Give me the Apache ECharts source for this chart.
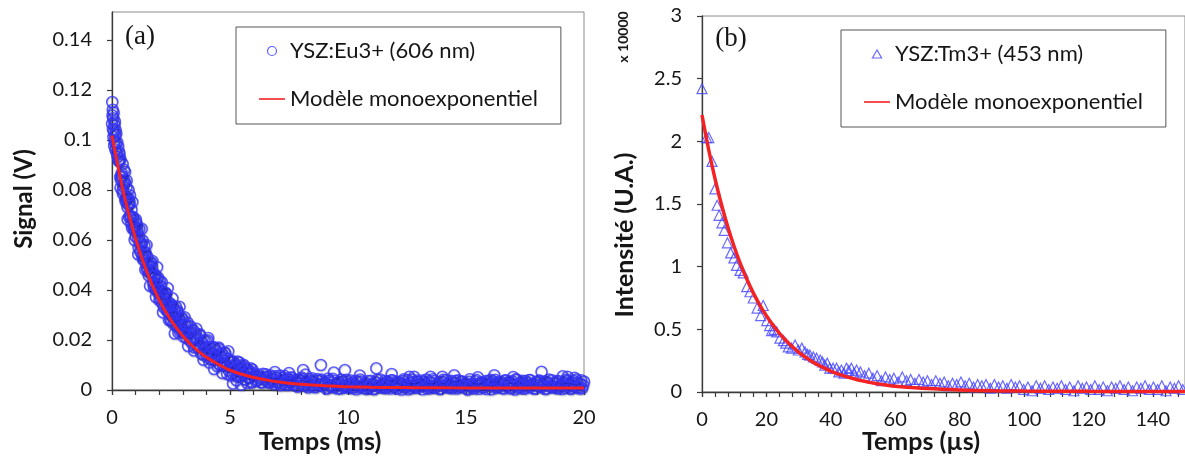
<!DOCTYPE html>
<html><head><meta charset="utf-8">
<script src="https://cdn.jsdelivr.net/npm/echarts@6/dist/echarts.min.js"></script>
<style>html,body{margin:0;padding:0;background:#fff}#c{width:1185px;height:459px}</style>
</head><body><div id="c"></div><script>
// ---------- Panel (a) : YSZ:Eu3+ ----------
const xTicksA = [0, 5, 10, 15, 20];
const xMinorA = [0,1,2,3,4,5,6,7,8,9,10,11,12,13,14,15,16,17,18,19,20];
const yTicksA = [0, 0.02, 0.04, 0.06, 0.08, 0.1, 0.12, 0.14];
const euSpike = [[0,.1065],[0.01,.1152],[0.02,.1098],[0.03,.1121],[0.04,.1043],[0.05,.1087],[0.06,.1012],[0.07,.1109],[0.08,.1035],[0.09,.0978],[0.1,.1062],[0.11,.0995],[0.12,.1074],[0.13,.1018],[0.14,.0962],[0.15,.1041],[0.16,.0987],[0.18,.1026],[0.2,.0948],[0.22,.0991],[0.24,.0932],[0.26,.0975],[0.28,.0918],[0.3,.0953],[0.35,.0925],[0.45,.0905],[0.55,.0872],[0.62,.0838],[0.7,.0801]];
const euSteep1 = [[0.3,.0916],[0.35,.0852],[0.4,.0856],[0.45,.0798],[0.5,.0825],[0.55,.083],[0.6,.0765],[0.65,.0732],[0.7,.0741],[0.75,.075],[0.8,.0689],[0.85,.0648],[0.9,.0692],[0.95,.0657],[1,.0614],[1.05,.066],[1.1,.0605],[1.15,.0613],[1.2,.0553],[1.25,.0581],[1.3,.0598],[1.35,.0522],[1.4,.0539],[1.45,.0507],[1.5,.0533],[1.55,.0459],[1.6,.05],[1.65,.0469],[1.7,.0492],[1.75,.0431],[1.8,.0445],[1.85,.0402],[1.9,.0442],[1.95,.045],[2,.039],[2.05,.0366],[2.1,.0395],[2.15,.0376],[2.2,.0331],[2.25,.0375],[2.3,.0384],[2.35,.0332],[2.4,.031],[2.45,.0334],[2.5,.0343],[2.55,.0294],[2.6,.0265],[2.65,.032],[2.7,.0293],[2.75,.0254],[2.8,.0309],[2.85,.0263],[2.9,.0279],[2.95,.0238]];
const euSteep2 = [[0.325,.0918],[0.375,.084],[0.425,.0855],[0.475,.0814],[0.525,.0834],[0.575,.0754],[0.625,.0769],[0.675,.0771],[0.725,.0692],[0.775,.0697],[0.825,.0722],[0.875,.0689],[0.925,.0642],[0.975,.0641],[1.025,.067],[1.075,.0637],[1.125,.057],[1.175,.0592],[1.225,.059],[1.275,.0538],[1.325,.0539],[1.375,.0577],[1.425,.0547],[1.475,.0485],[1.525,.0506],[1.575,.047],[1.625,.0509],[1.675,.0464],[1.725,.0473],[1.775,.0409],[1.825,.0462],[1.875,.0413],[1.925,.0423],[1.975,.0385],[2.025,.0438],[2.075,.0398],[2.125,.0348],[2.175,.0386],[2.225,.0355],[2.275,.0387],[2.325,.0317],[2.375,.0337],[2.425,.0349],[2.475,.0281],[2.525,.0299],[2.575,.0336],[2.625,.0303],[2.675,.0269],[2.725,.0277],[2.775,.0318],[2.825,.0287],[2.875,.0235],[2.925,.0267],[2.975,.0237]];
const euSteep3 = [[0.31,.0943],[0.36,.0809],[0.41,.0868],[0.46,.0786],[0.51,.0881],[0.56,.0765],[0.61,.0809],[0.66,.0683],[0.71,.0747],[0.76,.0779],[0.81,.0666],[0.86,.0752],[0.91,.0657],[0.96,.06],[1.01,.0682],[1.06,.0649],[1.11,.0543],[1.16,.0644],[1.21,.0575],[1.26,.0645],[1.31,.0523],[1.36,.0555],[1.41,.0482],[1.46,.058],[1.51,.0485],[1.56,.0499],[1.61,.0417],[1.66,.051],[1.71,.0516],[1.76,.0421],[1.81,.0457],[1.86,.0372],[1.91,.0492],[1.96,.0399],[2.01,.0359],[2.06,.0417],[2.11,.0431],[2.16,.0311],[2.21,.0371],[2.26,.039],[2.31,.0324],[2.36,.0408],[2.41,.028],[2.46,.034],[2.51,.028],[2.56,.0367],[2.61,.0298],[2.66,.0226],[2.71,.0333],[2.76,.0304],[2.81,.023],[2.86,.0333],[2.91,.0247],[2.96,.0289]];
const euMid1 = [[3,.0282],[3.05,.0234],[3.1,.0258],[3.15,.021],[3.2,.027],[3.25,.0229],[3.3,.0199],[3.35,.0241],[3.4,.0201],[3.45,.0239],[3.5,.017],[3.55,.0207],[3.6,.0213],[3.65,.0171],[3.7,.022],[3.75,.0174],[3.8,.019],[3.85,.0142],[3.9,.0197],[3.95,.0172],[4,.0141],[4.05,.0199],[4.1,.0142],[4.15,.0168],[4.2,.0121],[4.25,.0148],[4.3,.0172],[4.35,.0122],[4.4,.0158],[4.45,.0124],[4.5,.0166],[4.55,.0102],[4.6,.0134],[4.65,.0147],[4.7,.0099],[4.75,.0116],[4.8,.0147],[4.85,.0097],[4.9,.0125],[4.95,.0078],[5,.0115],[5.05,.0091],[5.1,.0066],[5.15,.0114],[5.2,.0069],[5.25,.01],[5.3,.0054],[5.35,.0086],[5.4,.011],[5.45,.0055],[5.5,.0087],[5.55,.006],[5.6,.0095],[5.65,.0042],[5.7,.0071],[5.75,.0084],[5.8,.0048],[5.85,.0072],[5.9,.0032],[5.95,.0082],[6,.0055]];
const euMid2 = [[3.025,.0214],[3.075,.0291],[3.125,.0225],[3.175,.0259],[3.225,.0176],[3.275,.0236],[3.325,.0255],[3.375,.0189],[3.425,.0212],[3.475,.0158],[3.525,.0228],[3.575,.0245],[3.625,.017],[3.675,.0177],[3.725,.0223],[3.775,.0147],[3.825,.0192],[3.875,.0121],[3.925,.0175],[3.975,.0197],[4.025,.0132],[4.075,.0208],[4.125,.011],[4.175,.0149],[4.225,.0171],[4.275,.0125],[4.325,.0084],[4.375,.0168],[4.425,.014],[4.475,.0095],[4.525,.017],[4.575,.0102],[4.625,.0137],[4.675,.0068],[4.725,.0139],[4.775,.015],[4.825,.01],[4.875,.0065],[4.925,.0155],[4.975,.0115],[5.025,.0058],[5.075,.0115],[5.125,.0026],[5.175,.0101],[5.225,.0082],[5.275,.0039],[5.325,.0114],[5.375,.0057],[5.425,.0098],[5.475,.0021],[5.525,.0074],[5.575,.0101],[5.625,.0043],[5.675,.0087],[5.725,.0028],[5.775,.0071],[5.825,.0052],[5.875,.0087],[5.925,.003],[5.975,.007]];
const euTail1 = [[6.08,.0061],[6.16,.004],[6.24,.005],[6.32,.0031],[6.4,.0065],[6.48,.0041],[6.56,.0051],[6.64,.0031],[6.72,.0058],[6.8,.0042],[6.88,.0023],[6.96,.0048],[7.04,.0032],[7.12,.0058],[7.2,.0027],[7.28,.004],[7.36,.0021],[7.44,.0047],[7.52,.0032],[7.6,.0051],[7.68,.0023],[7.76,.0038],[7.84,.0015],[7.92,.004],[8,.0027],[8.08,.0044],[8.16,.0018],[8.24,.003],[8.32,.001],[8.4,.0035],[8.48,.0047],[8.56,.0019],[8.64,.0013],[8.72,.0037],[8.8,.0024],[8.88,.0042],[8.96,.002],[9.04,.0029],[9.12,.0009],[9.2,.0038],[9.28,.0015],[9.36,.0045],[9.44,.0011],[9.52,.0023],[9.6,.0031],[9.68,.0006],[9.76,.0034],[9.84,.0018],[9.92,.0041],[10,.0011],[10.08,.0024],[10.16,.0007],[10.24,.0028],[10.32,.0037],[10.4,.0015],[10.48,.001],[10.56,.0034],[10.64,.0019],[10.72,.0025],[10.8,.0004],[10.88,.0009],[10.96,.0037],[11.04,.0022],[11.12,.0004],[11.2,.003],[11.28,.0015],[11.36,.0042],[11.44,.0011],[11.52,.0025],[11.6,.0007],[11.68,.0034],[11.76,.0019],[11.84,.0039],[11.92,.0012],[12,.0027],[12.08,.0005],[12.16,.0031],[12.24,.0018],[12.32,.0036],[12.4,.001],[12.48,.0023],[12.56,.0003],[12.64,.0029],[12.72,.0041],[12.8,.0014],[12.88,.0008],[12.96,.0032],[13.04,.002],[13.12,.0038],[13.2,.0016],[13.28,.0026],[13.36,.0006],[13.44,.0035],[13.52,.0013],[13.6,.0043],[13.68,.0009],[13.76,.0021],[13.84,.003],[13.92,.0005],[14,.0033],[14.08,.0017],[14.16,.004],[14.24,.0011],[14.32,.0024],[14.4,.0007],[14.48,.0028],[14.56,.0037],[14.64,.0015],[14.72,.001],[14.8,.0034],[14.88,.0019],[14.96,.0025],[15.04,.0004],[15.12,.0033],[15.2,.0013],[15.28,.0024],[15.36,.0006],[15.44,.004],[15.52,.0017],[15.6,.0028],[15.68,.0031],[15.76,.0012],[15.84,.0036],[15.92,.0021],[16,.0027],[16.08,.0003],[16.16,.0035],[16.24,.0041],[16.32,.0011],[16.4,.0024],[16.48,.0032],[16.56,.0008],[16.64,.0038],[16.72,.0016],[16.8,.003],[16.88,.0006],[16.96,.0035],[17.04,.0019],[17.12,.0043],[17.2,.0009],[17.28,.0026],[17.36,.003],[17.44,.0005],[17.52,.0036],[17.6,.0014],[17.68,.004],[17.76,.0022],[17.84,.0024],[17.92,.0007],[18,.0031],[18.08,.0037],[18.16,.0012],[18.24,.0019],[18.32,.0034],[18.4,.0006],[18.48,.0027],[18.56,.0015],[18.64,.0039],[18.72,.0013],[18.8,.0029],[18.88,.0006],[18.96,.0035],[19.04,.0017],[19.12,.0028],[19.2,.0009],[19.28,.0037],[19.36,.0022],[19.44,.0004],[19.52,.003],[19.6,.0015],[19.68,.0042],[19.76,.0011],[19.84,.0025],[19.92,.0007],[20,.0034]];
const euTail2 = [[6.12,.0037],[6.2,.0062],[6.28,.0049],[6.36,.003],[6.44,.0053],[6.52,.0063],[6.6,.0037],[6.68,.0029],[6.76,.0051],[6.84,.0038],[6.92,.0056],[7,.0029],[7.08,.0043],[7.16,.0019],[7.24,.0048],[7.32,.0056],[7.4,.0031],[7.48,.002],[7.56,.004],[7.64,.0048],[7.72,.0022],[7.8,.0032],[7.88,.0014],[7.96,.0041],[8.04,.005],[8.12,.0022],[8.2,.0032],[8.28,.0016],[8.36,.0044],[8.44,.0022],[8.52,.0036],[8.6,.0011],[8.68,.0044],[8.76,.0024],[8.84,.0038],[8.92,.0017],[9,.003],[9.08,.0005],[9.16,.0046],[9.24,.002],[9.32,.0012],[9.4,.0037],[9.48,.0025],[9.56,.0006],[9.64,.003],[9.72,.0041],[9.8,.0016],[9.88,.0009],[9.96,.0031],[10.04,.0019],[10.12,.0038],[10.2,.0012],[10.28,.0026],[10.36,.0003],[10.44,.0033],[10.52,.0042],[10.6,.0017],[10.68,.0007],[10.76,.0028],[10.84,.0036],[10.92,.0011],[11,.0022],[11.08,.0004],[11.16,.0032],[11.24,.0041],[11.32,.0014],[11.4,.0024],[11.48,.0009],[11.56,.0037],[11.64,.0016],[11.72,.003],[11.8,.0006],[11.88,.0039],[11.96,.002],[12.04,.0034],[12.12,.0013],[12.2,.0027],[12.28,.0002],[12.36,.0043],[12.44,.0018],[12.52,.004],[12.6,.0015],[12.68,.0008],[12.76,.0031],[12.84,.0019],[12.92,.0038],[13,.0012],[13.08,.0026],[13.16,.0003],[13.24,.0033],[13.32,.0042],[13.4,.0017],[13.48,.0007],[13.56,.0028],[13.64,.0036],[13.72,.0011],[13.8,.0022],[13.88,.0004],[13.96,.0032],[14.04,.0041],[14.12,.0014],[14.2,.0024],[14.28,.0009],[14.36,.0037],[14.44,.0016],[14.52,.003],[14.6,.0006],[14.68,.0039],[14.76,.002],[14.84,.0034],[14.92,.0013],[15,.0027],[15.08,.0002],[15.16,.0043],[15.24,.0018],[15.32,.001],[15.4,.0035],[15.48,.0023],[15.56,.0005],[15.64,.0029],[15.72,.0011],[15.8,.0026],[15.88,.0004],[15.96,.0036],[16.04,.0041],[16.12,.0018],[16.2,.0024],[16.28,.0009],[16.36,.0033],[16.44,.0016],[16.52,.0029],[16.6,.0006],[16.68,.0039],[16.76,.0023],[16.84,.0034],[16.92,.0013],[17,.0025],[17.08,.0002],[17.16,.0041],[17.24,.0018],[17.32,.001],[17.4,.0037],[17.48,.0023],[17.56,.0008],[17.64,.0029],[17.72,.004],[17.8,.0015],[17.88,.0005],[17.96,.0031],[18.04,.0021],[18.12,.0038],[18.2,.0012],[18.28,.0026],[18.36,.0004],[18.44,.0033],[18.52,.0042],[18.6,.0017],[18.68,.0009],[18.76,.0028],[18.84,.0036],[18.92,.0011],[19,.0022],[19.08,.0004],[19.16,.0032],[19.24,.0041],[19.32,.0014],[19.4,.0027],[19.48,.0009],[19.56,.0037],[19.64,.0016],[19.72,.003],[19.8,.0006],[19.88,.0039],[19.96,.002]];
const euOutliers = [[6.9,.0072],[7.5,.0068],[8.1,.008],[8.2,.0062],[8.85,.01],[9.4,.007],[9.87,.008],[10.5,.0058],[11.2,.0087],[11.85,.0064],[12.6,.0053],[12.8,.0053],[13.5,.0053],[14,.0053],[14.5,.0059],[15.5,.0051],[16.2,.0059],[17,.0052],[18.2,.0073],[19.1,.0055],[19.3,.0053],[19.6,.0049]];
const euFit = [[0,.1018],[0.5,.0784],[1,.0605],[1.5,.0467],[2,.036],[2.5,.0279],[3,.0216],[3.5,.0168],[4,.0131],[4.5,.0103],[5,.0079],[5.5,.0063],[6,.005],[6.5,.0041],[7,.0033],[7.5,.0027],[8,.0023],[8.5,.002],[9,.0017],[9.5,.0015],[10,.0013],[11,.0011],[12,.001],[13,.0009],[14,.0009],[15,.0008],[16,.0008],[17,.0008],[18,.0008],[19,.0008],[20,.0008]];

// ---------- Panel (b) : YSZ:Tm3+ ----------
const xTicksB = [0, 20, 40, 60, 80, 100, 120, 140];
const xMinorB = [0,4,8,12,16,20,24,28,32,36,40,44,48,52,56,60,64,68,72,76,80,84,88,92,96,100,104,108,112,116,120,124,128,132,136,140,144,148];
const yTicksB = [0, 0.5, 1, 1.5, 2, 2.5, 3];
const tmData = [[0,2.42],[1.4,2.03],[2.1,2.03],[3.1,1.84],[4,1.62],[4.7,1.49],[5.3,1.41],[6.2,1.35],[6.9,1.29],[7.9,1.19],[8.9,1.11],[9.9,1.07],[10.7,1.01],[11.8,0.97],[12.8,0.95],[13.9,0.84],[14.9,0.8],[15.9,0.75],[17.1,0.67],[18.2,0.61],[19,0.69],[20.1,0.57],[21,0.53],[21.6,0.49],[22.4,0.5],[23.2,0.48],[24.2,0.43],[25.3,0.41],[26,0.39],[26.8,0.36],[27.8,0.35],[28.9,0.375],[29.9,0.335],[31,0.35],[32,0.32],[32.8,0.3],[33.5,0.295],[34.6,0.28],[35.6,0.27],[36.7,0.255],[37.4,0.24],[38.1,0.215],[38.9,0.23],[39.7,0.19],[40.7,0.19],[41.8,0.19],[42.5,0.16],[43.3,0.175],[44.1,0.15],[44.9,0.19],[45.6,0.17],[46.4,0.19],[47.2,0.15],[48,0.175],[49.2,0.16],[50.5,0.13],[51.8,0.15],[53.1,0.11],[54.4,0.13],[55.7,0.09],[57,0.12],[58.3,0.1],[59.6,0.11],[60.9,0.08],[62.2,0.12],[63.5,0.09],[64.8,0.1],[66.1,0.07],[67.4,0.1],[68.7,0.08],[70,0.09],[71.3,0.06],[72.6,0.09],[73.9,0.07],[75.2,0.08],[76.5,0.05],[77.8,0.07],[79.1,0.06],[80.4,0.08],[81.7,0.05],[83,0.07],[84.3,0.04],[85.6,0.06],[86.9,0.05],[88.2,0.06],[89.5,0.03],[90.8,0.06],[92.1,0.04],[93.4,0.05],[94.7,0.03],[96,0.06],[97.3,0.04],[98.6,0.05],[99.9,0.02],[101.2,0.04],[102.5,0.01],[103.8,0.05],[105.1,0.03],[106.4,0.05],[107.7,0.02],[109,0.04],[110.3,0.03],[111.6,0.05],[112.9,0.02],[114.2,0.04],[115.5,0.01],[116.8,0.05],[118.1,0.03],[119.4,0.04],[120.7,0.02],[122,0.05],[123.3,0.02],[124.6,0.04],[125.9,0.01],[127.2,0.04],[128.5,0.03],[129.8,0.05],[131.1,0.02],[132.4,0.04],[133.7,0.01],[135,0.04],[136.3,0.03],[137.6,0.05],[138.9,0.02],[140.2,0.04],[141.5,0.02],[142.8,0.05],[144.1,0.01],[145.4,0.04],[146.7,0.03],[148,0.05],[149.3,0.02]];
const tmFit = [[0,2.21],[2,1.943],[4,1.707],[6,1.5],[8,1.319],[10,1.159],[12,1.019],[14,0.895],[16,0.787],[18,0.692],[20,0.608],[22,0.534],[24,0.47],[26,0.413],[28,0.363],[30,0.319],[32,0.28],[34,0.246],[36,0.217],[38,0.19],[40,0.167],[42,0.147],[44,0.129],[46,0.114],[48,0.1],[50,0.088],[52,0.077],[54,0.068],[56,0.06],[58,0.052],[60,0.046],[70,0.027],[80,0.016],[90,0.01],[100,0.007],[110,0.006],[120,0.005],[130,0.0045],[140,0.004],[150,0.004]];

const euData = euSpike.concat(euSteep1, euSteep2, euSteep3, euMid1, euMid2, euTail1, euTail2, euOutliers);

const F = 'Lato';
const ink = '#161616';
const axisCol = '#3a3a3a';
const BLUE = '#3636ff';
const TBLUE = '#4444ff';
const RED = '#f42222';
const LINE_ICON = 'path://M0,0h26v1.6h-26z';
const TRI_ICON = 'path://M0,8L4.6,0L9.2,8Z';

function majorX(grid, ticks, max){
  return {gridIndex:grid,type:'value',min:0,max:max,
    axisLine:{onZero:false,lineStyle:{color:axisCol,width:1.3}},
    axisTick:{customValues:ticks,length:5,lineStyle:{color:axisCol,width:1.2}},
    axisLabel:{customValues:ticks,margin:18,fontFamily:F,fontSize:20,color:ink},
    splitLine:{show:false}};
}
function minorX(grid, ticks, max){
  return {gridIndex:grid,type:'value',min:0,max:max,
    axisLine:{show:false},
    axisTick:{customValues:ticks,inside:true,length:5,lineStyle:{color:axisCol,width:1.2}},
    axisLabel:{show:false},splitLine:{show:false}};
}
function majorY(grid, ticks, max){
  return {gridIndex:grid,type:'value',min:0,max:max,
    axisLine:{onZero:false,lineStyle:{color:axisCol,width:1.3}},
    axisTick:{customValues:ticks,length:5,lineStyle:{color:axisCol,width:1.2}},
    axisLabel:{customValues:ticks,margin:20,fontFamily:F,fontSize:20,color:ink},
    splitLine:{show:false}};
}
function legendCfg(left, top, items, ih){
  return {left:left,top:top,orient:'vertical',data:items,
    borderColor:'#555',borderWidth:1,backgroundColor:'#fff',
    padding:[13,23,14,23],itemGap:26,itemWidth:26,itemHeight:ih,
    itemStyle:{borderWidth:1.2},
    textStyle:{fontFamily:F,fontSize:22,color:ink}};
}
function txt(x, y, text, font, rot){
  return {type:'text',x:x,y:y,rotation:rot||0,z:100,
    style:{text:text,font:font,fill:ink,align:'center',verticalAlign:'middle'}};
}

const chart = echarts.init(document.getElementById('c'), null, {renderer:'canvas'});
chart.setOption({
  animation:false,
  backgroundColor:'#fff',
  grid:[
    {left:112,top:12,right:601,bottom:69,show:true,borderColor:'#8a8a8a',borderWidth:1},
    {left:702,top:16,right:-1,bottom:67,show:true,borderColor:'#8a8a8a',borderWidth:1}
  ],
  xAxis:[majorX(0,xTicksA,20),minorX(0,xMinorA,20),majorX(1,xTicksB,150),minorX(1,xMinorB,150)],
  yAxis:[majorY(0,yTicksA,0.1512),majorY(1,yTicksB,3)],
  legend:[
    legendCfg(236,27,[{name:'YSZ:Eu3+ (606 nm)'},{name:'Modèle monoexponentiel',icon:LINE_ICON}],9),
    legendCfg(841,30,[{name:'YSZ:Tm3+ (453 nm)',icon:TRI_ICON},{name:'Modèle monoexponentiel',icon:LINE_ICON}],8)
  ],
  series:[
    {name:'YSZ:Eu3+ (606 nm)',type:'scatter',xAxisIndex:0,yAxisIndex:0,data:euData,
     symbol:'circle',symbolSize:11,
     itemStyle:{color:'rgba(0,0,0,0)',borderColor:BLUE,borderWidth:1.6,
       shadowColor:'rgba(0,0,40,0.22)',shadowBlur:1,shadowOffsetX:0.5,shadowOffsetY:1.2}},
    {name:'Modèle monoexponentiel',type:'line',xAxisIndex:0,yAxisIndex:0,data:euFit,
     smooth:0.35,symbol:'none',z:5,
     lineStyle:{color:RED,width:3},itemStyle:{color:RED}},
    {name:'YSZ:Tm3+ (453 nm)',type:'scatter',xAxisIndex:2,yAxisIndex:1,data:tmData,
     symbol:'triangle',symbolSize:10,
     itemStyle:{color:'rgba(0,0,0,0)',borderColor:TBLUE,borderWidth:1.2}},
    {name:'Modèle monoexponentiel',type:'line',xAxisIndex:2,yAxisIndex:1,data:tmFit,
     smooth:0.35,symbol:'none',z:5,
     lineStyle:{color:RED,width:3.5},itemStyle:{color:RED}}
  ],
  graphic:[
    txt(140,37,'(a)','27px "Liberation Serif"'),
    txt(731,39,'(b)','27px "Liberation Serif"'),
    txt(24,199,'Signal (V)','bold 24px Lato',Math.PI/2),
    txt(320,442,'Temps (ms)','bold 25px Lato'),
    txt(625,235,'Intensité (U.A.)','bold 25px Lato',Math.PI/2),
    txt(921,442,'Temps (µs)','bold 25px Lato'),
    txt(623,37,'x 10000','bold 14px Lato',Math.PI/2)
  ]
});
</script></body></html>
